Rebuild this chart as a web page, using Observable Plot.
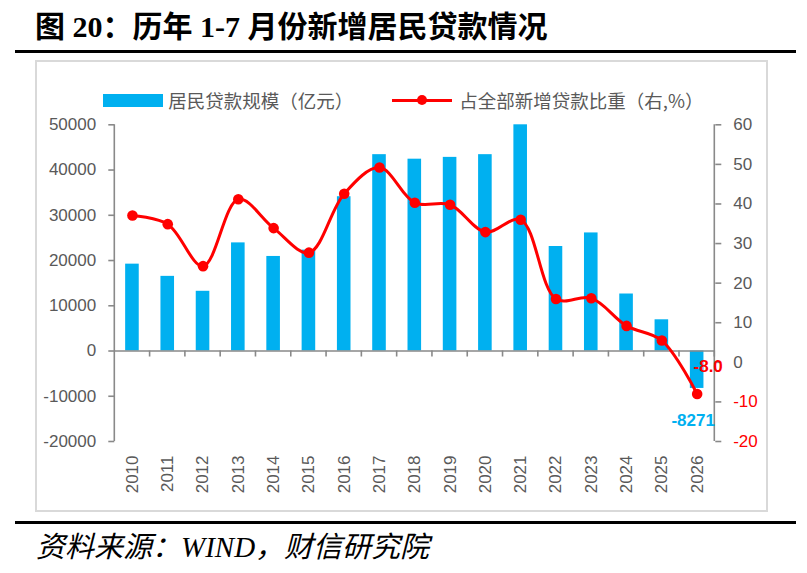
<!DOCTYPE html>
<html>
<head>
<meta charset="utf-8">
<script src="https://cdn.jsdelivr.net/npm/d3@7"></script>
<script src="https://cdn.jsdelivr.net/npm/@observablehq/plot@0.6"></script>
<style>
  html, body { margin: 0; padding: 0; background: #fff; }
  #wrap { position: relative; width: 807px; height: 573px; overflow: hidden; }
  #wrap > * { position: absolute; }
  .cjk { font-family: "Noto Sans CJK SC", sans-serif; }
</style>
</head>
<body>
<div id="wrap">
  <div id="box" style="left:35px;top:60px;width:733px;height:452px;border:2px solid #d9d9d9;box-sizing:border-box;"></div>
  <div id="chart" style="left:0;top:0;"></div>
  <div id="title" style="left:35px;top:12px;font-size:30px;line-height:30px;font-weight:bold;color:#000;white-space:nowrap;font-family:'Liberation Serif','Noto Sans CJK SC',serif;"></div>
  <div style="left:15px;top:50px;width:781px;height:3px;background:#000;"></div>
  <div style="left:15px;top:520.5px;width:781px;height:3px;background:#000;"></div>
  <div id="legend1sw" style="left:103.3px;top:94.3px;width:60px;height:12.4px;background:#00B0F0;"></div>
  <div id="legend1" class="cjk" style="left:168.3px;top:89px;font-size:18.5px;line-height:22px;color:#595959;white-space:nowrap;"></div>
  <div style="left:391.7px;top:98.5px;width:60px;height:3px;background:#FF0000;"></div>
  <div style="left:417.3px;top:95px;width:10px;height:10px;border-radius:50%;background:#FF0000;"></div>
  <div id="legend2" class="cjk" style="left:459.3px;top:89px;font-size:18.5px;line-height:22px;color:#595959;white-space:nowrap;"></div>
  <div id="source" style="left:36px;top:532px;font-size:29px;line-height:30px;font-style:italic;color:#000;white-space:nowrap;font-family:'Liberation Serif','Noto Sans CJK SC',serif;"></div>
</div>
<script>
// ---- data ----
const titleText = "图 20：历年 1-7 月份新增居民贷款情况";
const sourceText = "资料来源：WIND，财信研究院";
const seriesBarName = "居民贷款规模（亿元）";
const seriesLineName = "占全部新增贷款比重（右,%）";
const years = ["2010","2011","2012","2013","2014","2015","2016","2017","2018","2019","2020","2021","2022","2023","2024","2025","2026"];
const loans = [19200, 16500, 13200, 23900, 20900, 22300, 34100, 43400, 42400, 42800, 43400, 50000, 23100, 26100, 12600, 6900, -8271];
const shares = [37.1, 34.9, 24.3, 41.2, 33.9, 27.7, 42.6, 49.2, 40.3, 39.8, 32.9, 36.0, 16.0, 16.2, 9.2, 5.5, -8.0];
const leftTicks = [-20000, -10000, 0, 10000, 20000, 30000, 40000, 50000];
const rightTicks = [-20, -10, 0, 10, 20, 30, 40, 50, 60];
const leftDomain = [-20000, 50000];
const rightDomain = [-20, 60];

document.getElementById("title").textContent = titleText;
document.getElementById("source").textContent = sourceText;
document.getElementById("legend1").textContent = seriesBarName;
document.getElementById("legend2").textContent = seriesLineName;

const data = years.map((year, i) => ({year, loans: loans[i], share: shares[i]}));
const y2 = d3.scaleLinear().domain(rightDomain).range(leftDomain);
const rightPos = rightTicks.filter(v => v >= 0).map(v => y2(v));
const rightNeg = rightTicks.filter(v => v < 0).map(v => y2(v));
const fmtRight = d => String(Math.round(y2.invert(d)));

const BLUE = "#00B0F0", RED = "#FF0000", AXIS = "#898989", TEXT = "#595959";

// decoration: axis spines and category ticks
const spines = (index, scales, values, dims) => {
  const {width, height, marginLeft, marginRight, marginTop, marginBottom} = dims;
  const g = d3.create("svg:g").attr("stroke", AXIS).attr("stroke-width", 1.6).attr("fill", "none");
  const left = marginLeft, right = width - marginRight;
  g.append("line").attr("x1", left).attr("x2", left).attr("y1", marginTop).attr("y2", height - marginBottom);
  g.append("line").attr("x1", right).attr("x2", right).attr("y1", marginTop).attr("y2", height - marginBottom);
  const y0 = scales.y(0);
  const step = (right - left) / years.length;
  for (let k = 1; k <= years.length; k++) {
    const xx = left + k * step;
    g.append("line").attr("x1", xx).attr("x2", xx).attr("y1", y0).attr("y2", y0 + 6);
  }
  return g.node();
};

const last = data[data.length - 1];

const chart = Plot.plot({
  width: 807,
  height: 573,
  marginLeft: 114.3,
  marginRight: 92.7,
  marginTop: 124.3,
  marginBottom: 132,
  style: {fontFamily: "'Liberation Sans', Arial, sans-serif", fontSize: "17px", background: "transparent", overflow: "visible"},
  x: {type: "band", domain: years, paddingInner: 0.615, paddingOuter: 0.3075, round: false, axis: null, label: null},
  y: {domain: leftDomain, axis: null, label: null},
  marks: [
    Plot.barY(data, {x: "year", y: "loans", fill: BLUE}),
    Plot.ruleY([0], {stroke: AXIS, strokeWidth: 1.6}),
    spines,
    // left axis
    Plot.axisY(leftTicks, {anchor: "left", label: null, tickSize: 6, tickFormat: () => "", color: AXIS, strokeWidth: 1.6}),
    Plot.axisY(leftTicks, {anchor: "left", label: null, tickSize: 0, tickPadding: 18.6, tickFormat: d => String(d), color: TEXT, fontSize: 17}),
    // right axis
    Plot.axisY(rightTicks.map(v => y2(v)), {anchor: "right", label: null, tickSize: 6, tickFormat: () => "", color: AXIS, strokeWidth: 1.6}),
    Plot.axisY(rightPos, {anchor: "right", label: null, tickSize: 0, tickPadding: 18.4, tickFormat: fmtRight, color: TEXT, fontSize: 17}),
    Plot.axisY(rightNeg, {anchor: "right", label: null, tickSize: 0, tickPadding: 18.4, tickFormat: fmtRight, color: RED, fontSize: 17}),
    // x axis labels
    Plot.axisX({anchor: "bottom", label: null, tickSize: 0, tickPadding: 14, tickRotate: -90, color: TEXT, fontSize: 17}),
    // line series
    Plot.line(data, {x: "year", y: d => y2(d.share), stroke: RED, strokeWidth: 3, curve: "catmull-rom"}),
    Plot.dot(data, {x: "year", y: d => y2(d.share), r: 5.3, fill: RED, stroke: "none"}),
    // annotations
    Plot.text([last], {x: "year", y: d => y2(d.share), text: d => d.share.toFixed(1), fill: RED, fontWeight: "bold", fontSize: 17, dx: 11, dy: -27}),
    Plot.text([last], {x: "year", y: "loans", text: d => String(d.loans), fill: BLUE, fontWeight: "bold", fontSize: 17, dx: -4, dy: 32})
  ]
});
document.getElementById("chart").appendChild(chart);
</script>
</body>
</html>
